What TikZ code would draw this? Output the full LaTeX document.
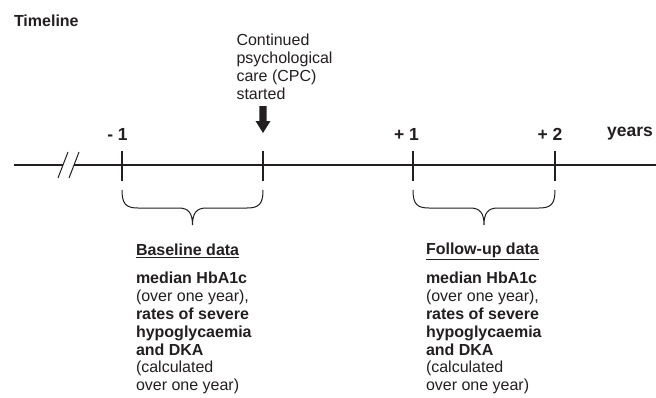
\documentclass[tikz,border=0pt]{standalone}
\usepackage{fontspec}
\setmainfont{Liberation Sans}
\usetikzlibrary{calc}
\definecolor{ink}{RGB}{35,31,32}
\begin{document}
\begin{tikzpicture}[x=1pt,y=-1pt,
  every node/.style={inner sep=0pt, outer sep=0pt, text=ink},
  txt/.style={font=\fontsize{16}{17.8}\selectfont, align=left},
  boldtxt/.style={font=\fontsize{16}{17.8}\selectfont\bfseries},
  ticklabel/.style={font=\fontsize{17.5}{20}\selectfont\bfseries},
  axisline/.style={draw=ink, line width=2.3pt},
  tickline/.style={draw=ink, line width=2pt},
  bracepath/.style={draw=ink, line width=1pt},
  ]
\useasboundingbox (0,0) rectangle (656,397);

% title
\node[boldtxt, anchor=west] (title) at (14,21) {Timeline};

% tick positions
\coordinate (tA) at (122,165);
\coordinate (tB) at (263,165);
\coordinate (tC) at (413,165);
\coordinate (tD) at (555,165);
\coordinate (start) at (14,165);
\coordinate (brkL) at (63,165);
\coordinate (brkR) at (74,165);
\coordinate (endp) at (656,165);

% axis
\draw[axisline] (start) -- (brkL);
\draw[axisline] (brkR) -- (endp);
\draw[draw=ink, line width=1pt] ($(brkL)+(-5,13)$) -- ($(brkL)+(5,-13)$);
\draw[draw=ink, line width=1pt] ($(brkR)+(-5,13)$) -- ($(brkR)+(5,-13)$);

% ticks
\foreach \t in {tA,tB,tC,tD}
  \draw[tickline] ($(\t)+(0,-14)$) -- ($(\t)+(0,16)$);

% tick labels
\node[ticklabel] (lA) at (117.5,134) {- 1};
\node[ticklabel] (lC) at (406.5,134) {+ 1};
\node[ticklabel] (lD) at (550,134) {+ 2};
\node[ticklabel] (lY) at (630,134) {years};

% CPC annotation
\node[txt, anchor=north west] (cpc) at (236.5,34.2) {Continued\\psychological\\care (CPC)\\started};
\fill[ink] ($(tB)+(-3.6,-59)$) -- ($(tB)+(3.6,-59)$) -- ($(tB)+(3.6,-44)$) -- ($(tB)+(7.5,-44)$)
  -- ($(tB)+(0,-32)$) -- ($(tB)+(-7.5,-44)$) -- ($(tB)+(-3.6,-44)$) -- cycle;

% braces
\foreach \a/\b in {tA/tB, tC/tD}{
  \path let \p1=(\a), \p2=(\b), \n1={(\x1+\x2)/2} in
    coordinate (m) at (\n1,\y1);
  \draw[bracepath] ($(\a)+(0,25)$) .. controls ($(\a)+(0,39)$) and ($(\a)+(4,43)$) .. ($(\a)+(16,43)$)
     -- ($(m)+(-14,43)$) .. controls ($(m)+(-4,43)$) and ($(m)+(0,48)$) .. ($(m)+(0,60)$)
     .. controls ($(m)+(0,48)$) and ($(m)+(4,43)$) .. ($(m)+(14,43)$)
     -- ($(\b)+(-16,43)$) .. controls ($(\b)+(-4,43)$) and ($(\b)+(0,39)$) .. ($(\b)+(0,25)$);
}

% data blocks
\node[boldtxt, anchor=west] (hB) at (136,251) {\underline{Baseline data}};
\node[txt, anchor=north west] (bB) at (136,272.2) {\textbf{median HbA1c}\\(over one year),\\\textbf{rates of severe}\\\textbf{hypoglycaemia}\\\textbf{and DKA}\\(calculated\\over one year)};

\node[boldtxt, anchor=west] (hF) at (426,251) {\underline{Follow-up data}};
\node[txt, anchor=north west] (bF) at (426,272.2) {\textbf{median HbA1c}\\(over one year),\\\textbf{rates of severe}\\\textbf{hypoglycaemia}\\\textbf{and DKA}\\(calculated\\over one year)};
\end{tikzpicture}
\end{document}
